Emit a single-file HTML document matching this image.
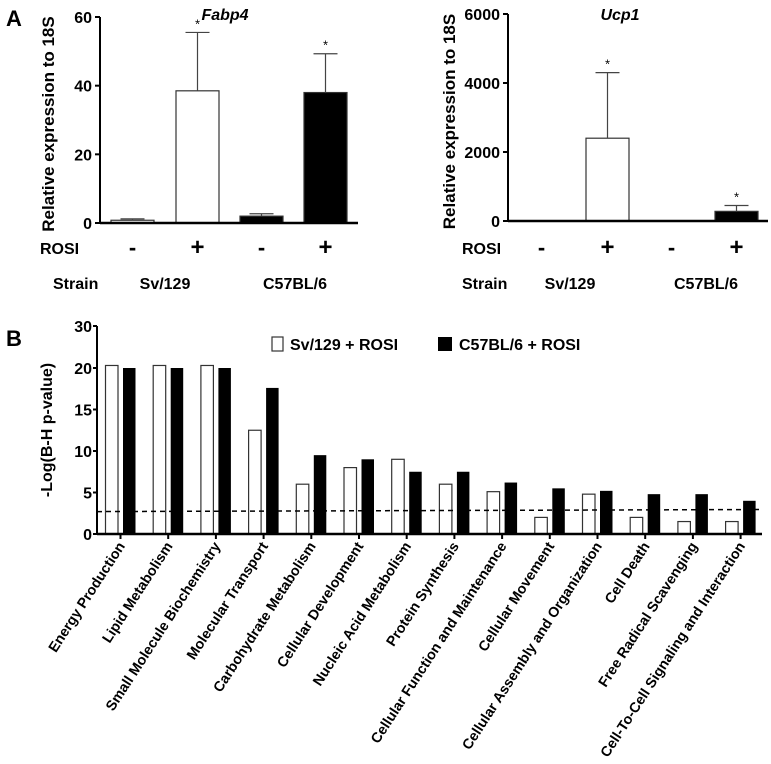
<!DOCTYPE html>
<html><head><meta charset="utf-8"><style>
html,body{margin:0;padding:0;background:#fff;}
svg{display:block;font-family:"Liberation Sans",Arial,sans-serif;font-weight:bold;}
</style></head><body>
<svg id="fig" width="771" height="764" viewBox="0 0 771 764" xmlns="http://www.w3.org/2000/svg">
<text x="6" y="26" font-size="22">A</text>
<text x="6" y="346" font-size="22">B</text>
<g id="fabp4"></g>
<g id="ucp1"></g>
<g id="pathways"></g>
</svg>
<script>
const NS="http://www.w3.org/2000/svg";
function mk(parent,tag,attrs,text){const e=document.createElementNS(NS,tag);for(const k in attrs)e.setAttribute(k,attrs[k]);if(text!==undefined)e.textContent=text;parent.appendChild(e);return e;}

// ---- Panel A data ----
const fabp4Values=[0.8,38.5,2,38];
const fabp4Errors=[1.2,55.5,2.7,49.3];
const fabp4Ticks=[0,20,40,60];
const ucp1Values=[0,2400,0,280];
const ucp1Errors=[0,4300,0,450];
const ucp1Ticks=[0,2000,4000,6000];
const rosiLabels=["-","+","-","+"];
const barFills=["#fff","#fff","#000","#000"];
const sigFlags=[false,true,false,true];

function panelA(g,cfg){
  const {ax,top,zero,max,barX,barW,axEnd,values,errors,ticks,title,titleX,ytX,rosiX,strainLX,strainX}=cfg;
  const y=v=>zero-(v/max)*(zero-top);
  const line=mk(g,'line',{x1:ax,y1:top,x2:ax,y2:zero,stroke:'#000','stroke-width':2});
  
  ticks.forEach(t=>{
    const tl=mk(g,'line',{x1:ax-5,y1:y(t),x2:ax,y2:y(t),stroke:'#000','stroke-width':2});
    
    const tx=mk(g,'text',{x:ax-8,y:y(t)+6,'font-size':16,'text-anchor':'end'},String(t));
    
  });
  values.forEach((v,i)=>{
    const x=barX[i];
    if(v>0){
      const r=mk(g,'rect',{x:x,y:y(v),width:barW,height:zero-y(v),fill:barFills[i],stroke:'#333','stroke-width':1.2});
      
    }
    if(errors[i]>v){
      const cx=x+barW/2;
      const el=mk(g,'line',{x1:cx,y1:y(v),x2:cx,y2:y(errors[i]),stroke:'#444','stroke-width':1.2});
      
      const cp=mk(g,'line',{x1:cx-12,y1:y(errors[i]),x2:cx+12,y2:y(errors[i]),stroke:'#444','stroke-width':1.2});
      
      if(sigFlags[i]){
        const s=mk(g,'text',{x:cx,y:y(errors[i])-4,'font-size':13,'font-weight':'normal','text-anchor':'middle'},'*');
        
      }
    }
  });
  const xl=mk(g,'line',{x1:ax,y1:zero,x2:axEnd,y2:zero,stroke:'#000','stroke-width':2.5});
  
  const tt=mk(g,'text',{x:titleX,y:20,'font-size':16,'font-style':'italic','text-anchor':'middle'},title);
  
  const yt=mk(g,'text',{x:0,y:0,'font-size':17,'text-anchor':'middle',transform:`translate(${ytX},${(top+zero)/2+4}) rotate(-90)`},'Relative expression to 18S');
  
  const rl=mk(g,'text',{x:rosiX,y:254,'font-size':16},'ROSI');
  
  rosiLabels.forEach((s,i)=>{
    const t=mk(g,'text',{x:barX[i]+barW/2,y:255,'font-size':s==='+'?24:22,'text-anchor':'middle'},s);
    
  });
  const sl=mk(g,'text',{x:strainLX,y:289,'font-size':16},'Strain');
  
  const s1=mk(g,'text',{x:strainX[0],y:289,'font-size':16,'text-anchor':'middle'},'Sv/129');
  
  const s2=mk(g,'text',{x:strainX[1],y:289,'font-size':16,'text-anchor':'middle'},'C57BL/6');
  
}
panelA(document.getElementById('fabp4'),{ax:100,top:17,zero:223,max:60,barX:[111,176,240,304],barW:43,axEnd:358,
  values:fabp4Values,errors:fabp4Errors,ticks:fabp4Ticks,title:'Fabp4',titleX:225,ytX:54,rosiX:40,strainLX:53,strainX:[165,295]});
panelA(document.getElementById('ucp1'),{ax:508,top:14,zero:221,max:6000,barX:[520,586,650,715],barW:43,axEnd:768,
  values:ucp1Values,errors:ucp1Errors,ticks:ucp1Ticks,title:'Ucp1',titleX:620,ytX:455,rosiX:462,strainLX:462,strainX:[570,706]});

// ---- Panel B data ----
const categories=["Energy Production","Lipid Metabolism","Small Molecule Biochemistry","Molecular Transport","Carbohydrate Metabolism","Cellular Development","Nucleic Acid Metabolism","Protein Synthesis","Cellular Function and Maintenance","Cellular Movement","Cellular Assembly and Organization","Cell Death","Free Radical Scavenging","Cell-To-Cell Signaling and Interaction"];
const svValues=[20.6,20.6,20.6,12.5,6,8,9,6,5.1,2,4.8,2,1.5,1.5];
const c57Values=[20,20,20,17.6,9.5,9,7.5,7.5,6.2,5.5,5.2,4.8,4.8,4];
const bTicks=[0,5,10,15,20,30];
const thresholdStart=2.7;
const thresholdEnd=2.95;

(function(){
  const g=document.getElementById('pathways');
  const ax=97,zero=534;
  const y=v=>v<=20?zero-v*8.3:(zero-166)-(v-20)*4.2;
  const cx=i=>120.5+i*47.7;
  const bw=12.5;
  categories.forEach((c,i)=>{
    const r1=mk(g,'rect',{x:cx(i)-bw-2.5,y:y(svValues[i]),width:bw,height:zero-y(svValues[i]),fill:'#fff',stroke:'#333','stroke-width':1.2});
    
    const r2=mk(g,'rect',{x:cx(i)+2.5,y:y(c57Values[i]),width:bw,height:zero-y(c57Values[i]),fill:'#000'});
    
    const tk=mk(g,'line',{x1:cx(i),y1:zero,x2:cx(i),y2:zero+5,stroke:'#000','stroke-width':2});
    
    const t=mk(g,'text',{x:0,y:0,'font-size':14.3,'text-anchor':'end',transform:`translate(${cx(i)+5},${zero+12}) rotate(-57)`},c);
    
  });
  const dl=mk(g,'line',{x1:ax,y1:y(thresholdStart),x2:762,y2:y(thresholdEnd),stroke:'#000','stroke-width':1.5,'stroke-dasharray':'5,4'});
  
  const ya=mk(g,'line',{x1:ax,y1:y(30),x2:ax,y2:zero,stroke:'#000','stroke-width':2});
  
  const xa=mk(g,'line',{x1:ax,y1:zero,x2:762,y2:zero,stroke:'#000','stroke-width':2.5});
  
  bTicks.forEach(t=>{
    const tl=mk(g,'line',{x1:ax-4,y1:y(t),x2:ax,y2:y(t),stroke:'#000','stroke-width':2});
    
    const tx=mk(g,'text',{x:ax-5,y:y(t)+6,'font-size':16,'text-anchor':'end'},String(t));
    
  });
  const yt=mk(g,'text',{x:0,y:0,'font-size':16,'text-anchor':'middle',transform:'translate(52,430) rotate(-90)'},'-Log(B-H p-value)');
  
  const lb1=mk(g,'rect',{x:272,y:337,width:11,height:14,fill:'#fff',stroke:'#333','stroke-width':1.2});
  
  const lt1=mk(g,'text',{x:290,y:350,'font-size':16},'Sv/129 + ROSI');
  
  const lb2=mk(g,'rect',{x:438,y:337,width:14,height:14,fill:'#000'});
  
  const lt2=mk(g,'text',{x:459,y:350,'font-size':16},'C57BL/6 + ROSI');
  
})();
</script>
</body></html>
